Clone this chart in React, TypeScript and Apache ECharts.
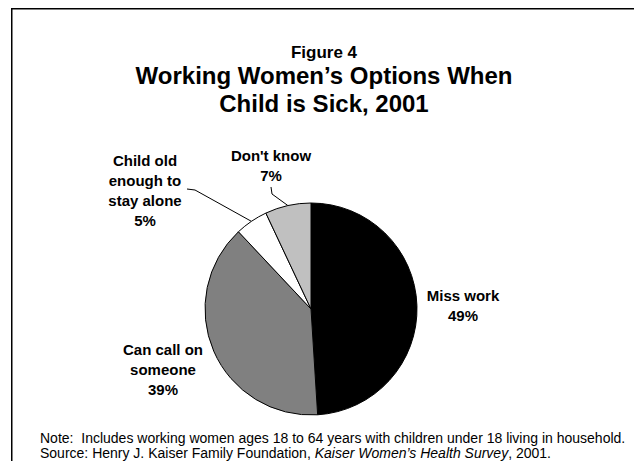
import React, { useEffect, useRef } from "react";
import * as echarts from "echarts";

const FONT = '"Liberation Sans", Arial, Helvetica, sans-serif';

const categories = ["Miss work", "Can call on\nsomeone", "Child old\nenough to\nstay alone", "Don't know"];
const values = [49, 39, 5, 7];
const colors = ["#000000", "#808080", "#ffffff", "#c0c0c0"];
const showLeader = [false, false, true, true];

const figureLabel = "Figure 4";
const titleText = "Working Women\u2019s Options When\nChild is Sick, 2001";
const noteText = "Note:  Includes working women ages 18 to 64 years with children under 18 living in household.";
const sourcePre = "Source: Henry J. Kaiser Family Foundation, ";
const sourceItalic = "Kaiser Women\u2019s Health Survey";
const sourcePost = ", 2001.";

// label anchor centres (layout, not data)
const labelPos: [number, number][] = [
  [463, 305],
  [163, 369],
  [145, 190],
  [271, 165],
];
// leader bend + end relative points (layout)
const leaderPts: ([number, number][] | null)[] = [
  null,
  null,
  [[195, 190], [187, 189]],
  [[272, 194], [271, 187]],
];

export default function App() {
  const ref = useRef<HTMLDivElement>(null);
  useEffect(() => {
    document.body.style.margin = "0";
    if (!ref.current) return;
    const chart = echarts.init(ref.current, undefined, { renderer: "svg" });
    chart.setOption({
      animation: false,
      backgroundColor: "#ffffff",
      graphic: [
        {
          type: "rect",
          shape: { x: 11.75, y: 8.75, width: 700, height: 600 },
          style: { fill: "none", stroke: "#000", lineWidth: 1.5 },
          silent: true,
        },
        {
          type: "text",
          x: 324,
          y: 52,
          style: {
            text: figureLabel,
            fontFamily: FONT,
            fontSize: 17,
            fontWeight: "bold",
            fill: "#000",
            align: "center",
            verticalAlign: "middle",
          },
        },
        {
          type: "text",
          x: 324,
          y: 89,
          style: {
            text: titleText,
            fontFamily: FONT,
            fontSize: 24,
            fontWeight: "bold",
            lineHeight: 28,
            fill: "#000",
            align: "center",
            verticalAlign: "middle",
          },
        },
        {
          type: "text",
          x: 40,
          y: 437.5,
          style: {
            text: noteText,
            fontFamily: FONT,
            fontSize: 14,
            fill: "#000",
            align: "left",
            verticalAlign: "middle",
          },
        },
        {
          type: "text",
          x: 40,
          y: 452.5,
          style: {
            text: `{n|${sourcePre}}{i|${sourceItalic}}{n|${sourcePost}}`,
            fontFamily: FONT,
            fontSize: 14,
            fill: "#000",
            align: "left",
            verticalAlign: "middle",
            rich: {
              n: { fontFamily: FONT, fontSize: 14, fill: "#000" },
              i: { fontFamily: FONT, fontSize: 14, fontStyle: "italic", fill: "#000" },
            },
          },
        },
      ],
      series: [
        {
          type: "pie",
          center: [311, 309],
          radius: 106,
          startAngle: 90,
          clockwise: true,
          avoidLabelOverlap: false,
          silent: true,
          itemStyle: { borderColor: "#000", borderWidth: 1 },
          label: {
            show: true,
            position: "outside",
            formatter: (p: any) => `${p.name}\n${p.value}%`,
            fontFamily: FONT,
            fontSize: 15,
            fontWeight: "bold",
            lineHeight: 20,
            color: "#000",
            align: "center",
          },
          labelLine: { show: true, lineStyle: { color: "#000", width: 1 } },
          labelLayout: (params: any) => {
            const i = params.dataIndex;
            const [x, y] = labelPos[i];
            const res: any = { x, y, align: "center", verticalAlign: "middle" };
            const lp = leaderPts[i];
            if (lp && params.labelLinePoints) {
              res.labelLinePoints = [params.labelLinePoints[0], lp[0], lp[1]];
            }
            return res;
          },
          data: categories.map((c, i) => ({
            name: c,
            value: values[i],
            itemStyle: { color: colors[i] },
            labelLine: { show: showLeader[i] },
          })),
        },
      ],
    });
    return () => chart.dispose();
  }, []);
  return <div ref={ref} style={{ width: 634, height: 461 }} />;
}
